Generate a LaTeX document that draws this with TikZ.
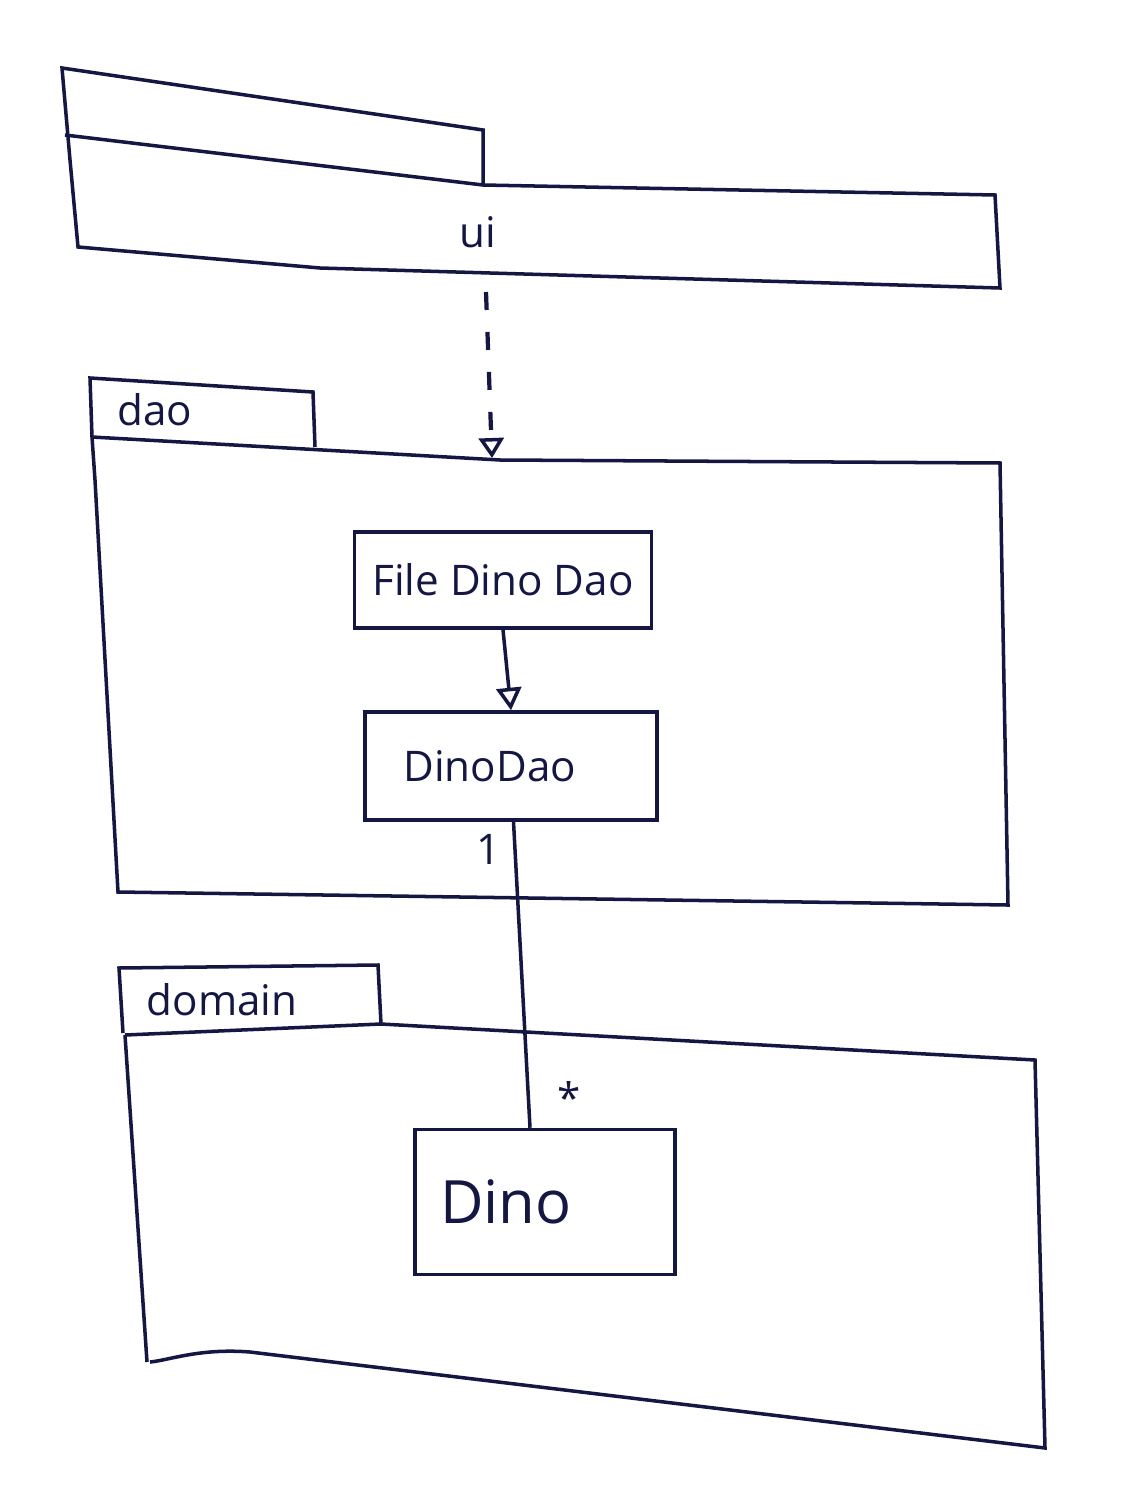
\documentclass[tikz,border=0pt]{standalone}
\usepackage{fontspec}
\setmainfont{Open Sans}
\usetikzlibrary{arrows.meta}
\definecolor{ink}{rgb}{0.08,0.09,0.26}
\begin{document}
\begin{tikzpicture}[x=0.02cm,y=-0.02cm,line width=2pt,draw=ink,text=ink]
		\tikzstyle{klasa} = [rectangle, draw=ink, line width=2pt, inner sep=0pt]
		\tikzstyle{napis} = [font=\fontsize{24}{28}\selectfont]
		\tikzstyle{zavislost} = [ink, line width=2.4pt, dash pattern=on 3.6mm off 4.4mm, -{Triangle[open,length=4mm,width=5mm,line width=2pt]}]
		\tikzstyle{dedi} = [ink, -{Triangle[open,length=4.5mm,width=5mm]}]
		\tikzstyle{asoc} = [ink]
		
		\useasboundingbox[fill=white] (0,0) rectangle (1125,1497);
		
		% balik ui
		\draw (483,185) -- (483,130) -- (62,68) -- (70,160) -- (78,247) -- (320,268) -- (1000,288) -- (995,195) -- (483,185) -- (65,135);
		\coordinate (uidole) at (486,292);
		\node (uilbl) [napis] at (478,232) {ui};
		
		% balik dao
		\draw (92,437) -- (90,378) -- (313,392) -- (315,447);
		\draw (92,437) -- (500,460) -- (1000,463) -- (1008,905) -- (118,892) -- (95,480) -- (92,437);
		\coordinate (daohore) at (492,458);
		\node (daolbl) [napis] at (155,410) {dao};
		
		% balik domain
		\draw (123,1033) -- (119,968) -- (378,965) -- (381,1024);
		\draw (125,1035) -- (381,1024) -- (1035,1060) -- (1045,1448) -- (250,1352) .. controls (200,1348) and (170,1360) .. (150,1362);
		\draw (125,1035) -- (147,1362);
		\node (domainlbl) [napis] at (222,1000) {domain};
		
		% tridy
		\node (fdd) [klasa, napis, minimum width=5.94cm, minimum height=1.92cm] at (503,580) {File Dino Dao};
		\node (dd) [klasa, napis, minimum width=5.84cm, minimum height=2.16cm, text width=5.2cm, align=left] at (511,766) {\hspace*{0.45cm}DinoDao};
		\node (dino) [klasa, font=\fontsize{34}{40}\selectfont, minimum width=5.2cm, minimum height=2.9cm, text width=4.2cm, align=left] at (545,1202) {Dino};
		
		\draw [zavislost] (uidole) -- (daohore);
		\draw [dedi] (fdd.south) -- (dd.north);
		\draw [asoc] ([xshift=0.05cm]dd.south) -- node[pos=0.09, left=4pt, napis] {1} node[pos=0.9, right=12pt, napis] {*} ([xshift=-0.3cm]dino.north);
	\end{tikzpicture}
\end{document}
